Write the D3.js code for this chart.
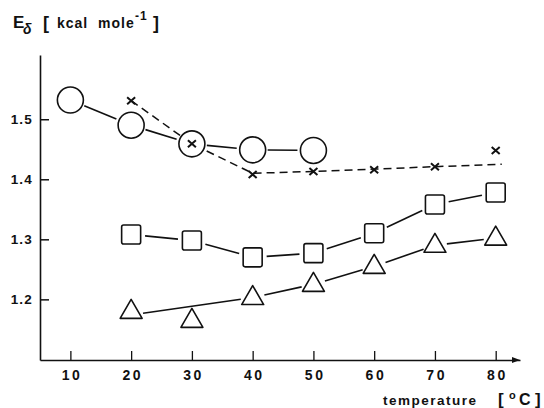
<!DOCTYPE html>
<meta charset="UTF-8">

<!-- Load d3.js-->
<script src="https://d3js.org/d3.v7.min.js"></script>

<div id="my_dataviz"></div>

<style>
body { margin: 0; background: #fff; }
text { font-family: "Liberation Sans", Arial, sans-serif; font-weight: bold; fill: #111; }
</style>

<script>

// data
var xTicks = [10, 20, 30, 40, 50, 60, 70, 80]
var yTicks = [1.2, 1.3, 1.4, 1.5]

var circleTemps = [10, 20, 30, 40, 50]
var circleValues = [1.532, 1.490, 1.459, 1.449, 1.448]

var crossTemps = [20, 30, 40, 50, 60, 70, 80]
var crossValues = [1.531, 1.459, 1.408, 1.413, 1.416, 1.421, 1.448]
// dashed line drawn through the crosses (ends short of the last one)
var crossLineTemps = [20, 30, 40, 50, 60, 70, 81]
var crossLineValues = [1.531, 1.459, 1.410, 1.413, 1.417, 1.421, 1.425]

var squareTemps = [20, 30, 40, 50, 60, 70, 80]
var squareValues = [1.308, 1.298, 1.270, 1.277, 1.310, 1.358, 1.378]

var triangleTemps = [20, 30, 40, 50, 60, 70, 80]
var triangleValues = [1.180, 1.165, 1.203, 1.225, 1.255, 1.290, 1.302]
// solid line for triangles skips the point at 30
var triangleLineTemps = [20, 40, 50, 60, 70, 80]
var triangleLineValues = [1.174, 1.203, 1.225, 1.255, 1.290, 1.302]

var width = 544
var height = 408

var svg = d3.select('#my_dataviz')
    .append("svg")
        .attr("width", width)
        .attr("height", height)

var x = d3.scaleLinear()
    .domain([5, 84])
    .range([40, 520])

var y = d3.scaleLinear()
    .domain([1.099, 1.607])
    .range([360, 55])

// axes
var xAxis = svg.append("g")
    .attr("transform", "translate(0," + y(1.099) + ")")
    .call(d3.axisBottom(x).tickValues(xTicks).tickSizeInner(-9).tickSizeOuter(0).tickPadding(10).tickFormat(d3.format("d")))
xAxis.select(".domain").attr("stroke", "#111").attr("stroke-width", 1.6)
xAxis.selectAll(".tick line").attr("stroke", "#111").attr("stroke-width", 1.3)
xAxis.selectAll(".tick text").style("font-size", "14px").style("letter-spacing", "2.5px").attr("dx", "1.2px").attr("fill", "#111")

var yAxis = svg.append("g")
    .attr("transform", "translate(" + x(5) + ",0)")
    .call(d3.axisLeft(y).tickValues(yTicks).tickSizeInner(-9).tickSizeOuter(0).tickPadding(7).tickFormat(d3.format(".1f")))
yAxis.select(".domain").attr("stroke", "#111").attr("stroke-width", 1.6)
yAxis.selectAll(".tick line").attr("stroke", "#111").attr("stroke-width", 1.5)
yAxis.selectAll(".tick text").style("font-size", "13.5px").style("letter-spacing", "1.2px").attr("fill", "#111")

// arrow head on the temperature axis
svg.append("path")
    .attr("d", d3.line()([[x(84), y(1.099)], [x(84) - 8, y(1.099) - 3], [x(84) - 8, y(1.099) + 3]]) + "Z")
    .attr("fill", "#111")

// helper: segment between two points, shortened at both ends
function gapSegments(temps, values, gapA, gapB) {
    var out = []
    for (var i = 0; i < temps.length - 1; i++) {
        var x1 = x(temps[i]), y1 = y(values[i]), x2 = x(temps[i + 1]), y2 = y(values[i + 1])
        var len = Math.hypot(x2 - x1, y2 - y1)
        var ux = (x2 - x1) / len, uy = (y2 - y1) / len
        out.push([[x1 + ux * gapA, y1 + uy * gapA], [x2 - ux * gapB, y2 - uy * gapB]])
    }
    return out
}

var lineGen = d3.line()

// dashed line through crosses
svg.append("path")
    .attr("d", lineGen(crossLineTemps.map(function(t, i){ return [x(t), y(crossLineValues[i])] })))
    .attr("fill", "none")
    .attr("stroke", "#111")
    .attr("stroke-width", 1.5)
    .attr("stroke-dasharray", "8,5")

// solid segments
function drawSegments(segs) {
    svg.append("g").selectAll("path")
        .data(segs)
        .enter()
        .append("path")
            .attr("d", function(d){ return lineGen(d) })
            .attr("fill", "none")
            .attr("stroke", "#111")
            .attr("stroke-width", 1.6)
}
drawSegments(gapSegments(circleTemps, circleValues, 15, 16))
drawSegments(gapSegments(squareTemps, squareValues, 14, 14))
drawSegments(gapSegments(triangleLineTemps, triangleLineValues, 12, 12))

// circles
svg.append("g").selectAll("circle")
    .data(circleTemps)
    .enter()
    .append("circle")
        .attr("cx", function(d){ return x(d) })
        .attr("cy", function(d, i){ return y(circleValues[i]) })
        .attr("r", 13)
        .attr("fill", "#fff")
        .attr("stroke", "#111")
        .attr("stroke-width", 1.6)

// squares
svg.append("g").selectAll("rect")
    .data(squareTemps)
    .enter()
    .append("rect")
        .attr("x", function(d){ return x(d) - 9.5 })
        .attr("y", function(d, i){ return y(squareValues[i]) - 9.5 })
        .attr("width", 19)
        .attr("height", 19)
        .attr("rx", 2)
        .attr("fill", "#fff")
        .attr("stroke", "#111")
        .attr("stroke-width", 1.6)

// triangles
svg.append("g").selectAll("path")
    .data(triangleTemps)
    .enter()
    .append("path")
        .attr("transform", function(d, i){ return "translate(" + x(d) + "," + y(triangleValues[i]) + ")" })
        .attr("d", "M0,-12L11,7L-11,7Z")
        .attr("fill", "#fff")
        .attr("stroke", "#111")
        .attr("stroke-width", 1.6)
        .attr("stroke-linejoin", "round")

// crosses
svg.append("g").selectAll("path")
    .data(crossTemps)
    .enter()
    .append("path")
        .attr("transform", function(d, i){ return "translate(" + x(d) + "," + y(crossValues[i]) + ")" })
        .attr("d", "M-4,-3.5L4,3.5M-4,3.5L4,-3.5")
        .attr("stroke", "#111")
        .attr("stroke-width", 2)

// axis titles
var title = svg.append("text")
    .attr("y", 28)
    .style("font-size", "14px")
title.append("tspan").text("E").attr("x", 13).style("font-size", "17px")
title.append("tspan").text("δ").attr("x", 23).attr("y", 34).style("font-size", "14px").style("font-style", "italic")
title.append("tspan").text("[").attr("x", 43).attr("y", 29).style("font-size", "18px")
title.append("tspan").text("kcal").attr("x", 57).attr("y", 28).style("letter-spacing", "1px")
title.append("tspan").text("mole").attr("x", 98).style("letter-spacing", "1px")
title.append("tspan").text("-1").attr("x", 135).attr("y", 20).style("font-size", "12px").style("letter-spacing", "1px")
title.append("tspan").text("]").attr("x", 153).attr("y", 29).style("font-size", "18px")

var xlab = svg.append("text")
    .attr("y", 405)
    .style("font-size", "13.5px")
xlab.append("tspan").text("temperature").attr("x", 383).style("letter-spacing", "1.5px")
xlab.append("tspan").text("[").attr("x", 498).style("font-size", "17px")
xlab.append("tspan").text("o").attr("x", 509).attr("y", 399).style("font-size", "11px")
xlab.append("tspan").text("C").attr("x", 519).attr("y", 405).style("font-size", "16px")
xlab.append("tspan").text("]").attr("x", 535).style("font-size", "17px")

</script>
